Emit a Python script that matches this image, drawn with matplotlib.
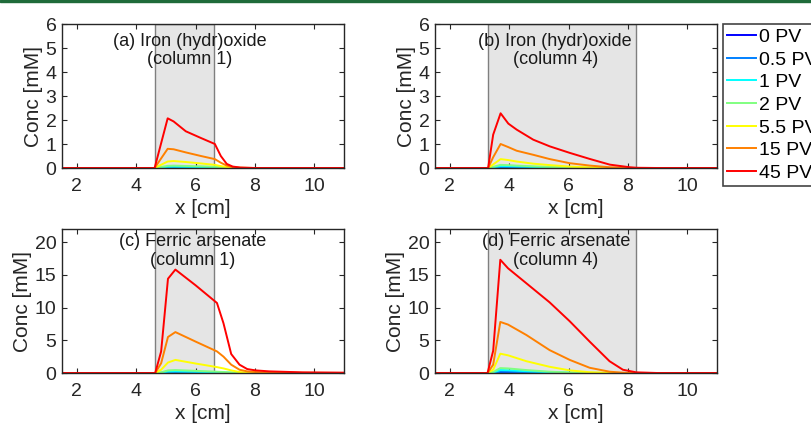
import matplotlib
matplotlib.use("Agg")
import matplotlib.pyplot as plt
from matplotlib.patches import Rectangle

plt.rcParams['font.family'] = ['Liberation Sans', 'DejaVu Sans']

labels = ['0 PV', '0.5 PV', '1 PV', '2 PV', '5.5 PV', '15 PV', '45 PV']
colors = ['#0000ff', '#0080ff', '#00ffff', '#80ff80', '#ffff00', '#ff8000', '#ff0000']

# Panel (a): Iron (hydr)oxide, column 1
xa = [1.5, 4.62, 5.06, 5.26, 5.67, 6.18, 6.65, 6.85, 7.05, 7.25, 7.5, 8.0, 9.0, 11.0]
ya = [
    [0, 0, 0, 0, 0, 0, 0, 0, 0, 0, 0, 0, 0, 0],
    [0, 0, 0.025, 0.03, 0.025, 0.02, 0.015, 0.01, 0.005, 0.002, 0, 0, 0, 0],
    [0, 0, 0.05, 0.055, 0.047, 0.04, 0.03, 0.02, 0.01, 0.004, 0, 0, 0, 0],
    [0, 0, 0.09, 0.10, 0.085, 0.07, 0.05, 0.035, 0.02, 0.008, 0.002, 0, 0, 0],
    [0, 0, 0.27, 0.29, 0.25, 0.19, 0.13, 0.08, 0.04, 0.015, 0.005, 0, 0, 0],
    [0, 0, 0.80, 0.78, 0.65, 0.50, 0.37, 0.22, 0.10, 0.04, 0.01, 0, 0, 0],
    [0, 0, 2.07, 1.94, 1.53, 1.25, 1.00, 0.50, 0.17, 0.06, 0.02, 0, 0, 0],
]

# Panel (b): Iron (hydr)oxide, column 4
xb = [1.5, 3.29, 3.46, 3.71, 3.97, 4.25, 4.81, 5.37, 6.04, 6.72, 7.39, 8.07, 8.3, 9.0, 11.0]
yb = [
    [0, 0, 0, 0, 0, 0, 0, 0, 0, 0, 0, 0, 0, 0, 0],
    [0, 0, 0.01, 0.03, 0.03, 0.025, 0.018, 0.012, 0.005, 0.002, 0, 0, 0, 0, 0],
    [0, 0, 0.03, 0.08, 0.075, 0.065, 0.045, 0.03, 0.013, 0.005, 0, 0, 0, 0, 0],
    [0, 0, 0.05, 0.13, 0.12, 0.10, 0.07, 0.045, 0.02, 0.008, 0, 0, 0, 0, 0],
    [0, 0, 0.15, 0.37, 0.33, 0.27, 0.18, 0.12, 0.06, 0.025, 0.008, 0, 0, 0, 0],
    [0, 0, 0.45, 1.00, 0.87, 0.72, 0.55, 0.37, 0.20, 0.10, 0.03, 0.005, 0, 0, 0],
    [0, 0, 1.39, 2.28, 1.85, 1.60, 1.18, 0.90, 0.63, 0.375, 0.14, 0.03, 0.01, 0, 0],
]

# Panel (c): Ferric arsenate, column 1
xc = [1.5, 4.64, 4.84, 5.07, 5.32, 6.0, 6.72, 6.94, 7.2, 7.48, 7.74, 8.02, 8.48, 9.6, 11.0]
yc = [
    [0, 0, 0, 0, 0, 0, 0, 0, 0, 0, 0, 0, 0, 0, 0],
    [0, 0, 0.02, 0.08, 0.10, 0.07, 0.04, 0.03, 0.015, 0.005, 0, 0, 0, 0, 0],
    [0, 0, 0.05, 0.22, 0.25, 0.18, 0.11, 0.08, 0.04, 0.015, 0, 0, 0, 0, 0],
    [0, 0, 0.10, 0.40, 0.45, 0.33, 0.20, 0.15, 0.08, 0.03, 0.01, 0, 0, 0, 0],
    [0, 0, 0.50, 1.60, 2.00, 1.45, 0.90, 0.70, 0.40, 0.15, 0.07, 0.04, 0.02, 0.01, 0],
    [0, 0, 1.50, 5.50, 6.25, 4.80, 3.30, 2.50, 1.27, 0.50, 0.25, 0.15, 0.08, 0.03, 0.01],
    [0, 0, 3.30, 14.4, 15.8, 13.4, 10.7, 7.60, 2.90, 1.27, 0.60, 0.40, 0.25, 0.10, 0.05],
]

# Panel (d): Ferric arsenate, column 4
xd = [1.5, 3.27, 3.46, 3.70, 3.96, 4.58, 5.36, 6.04, 6.71, 7.38, 7.83, 8.28, 9.0, 11.0]
yd = [
    [0, 0, 0, 0, 0, 0, 0, 0, 0, 0, 0, 0, 0, 0],
    [0, 0, 0.03, 0.20, 0.19, 0.12, 0.05, 0.015, 0, 0, 0, 0, 0, 0],
    [0, 0, 0.08, 0.45, 0.42, 0.27, 0.12, 0.04, 0.01, 0, 0, 0, 0, 0],
    [0, 0, 0.15, 0.75, 0.70, 0.45, 0.20, 0.07, 0.02, 0, 0, 0, 0, 0],
    [0, 0, 0.50, 2.95, 2.70, 1.80, 0.95, 0.40, 0.12, 0.03, 0, 0, 0, 0],
    [0, 0, 1.27, 7.80, 7.40, 5.80, 3.50, 2.00, 0.80, 0.20, 0.05, 0.01, 0, 0],
    [0, 0, 3.40, 17.3, 16.0, 13.7, 10.8, 7.90, 4.80, 1.80, 0.50, 0.10, 0, 0],
]

titles = ['(a) Iron (hydr)oxide\n(column 1)', '(b) Iron (hydr)oxide\n(column 4)',
          '(c) Ferric arsenate\n(column 1)', '(d) Ferric arsenate\n(column 4)']
zones = [(4.62, 6.62), (3.27, 8.27), (4.62, 6.62), (3.27, 8.27)]
ylims = [(0, 6), (0, 6), (0, 22), (0, 22)]
yticks = [[0, 1, 2, 3, 4, 5, 6], [0, 1, 2, 3, 4, 5, 6], [0, 5, 10, 15, 20], [0, 5, 10, 15, 20]]
xticks = [2, 4, 6, 8, 10]
title_pos = [(5.8, 0.94), (5.55, 0.94), (5.9, 0.97), (5.57, 0.97)]

W, H = 811, 423
fig = plt.figure(figsize=(W / 100, H / 100), dpi=100)
fig.patches.append(Rectangle((0, 1 - 2.5 / H), 1, 2.5 / H, transform=fig.transFigure,
                             color='#1f6b3a', zorder=10))

boxes = [(62, 24), (435, 24), (62, 229), (435, 229)]
aw, ah = 282, 144
panels = [(xa, ya), (xb, yb), (xc, yc), (xd, yd)]
for i, ((l, t), (xs, ys)) in enumerate(zip(boxes, panels)):
    ax = fig.add_axes([l / W, (H - t - ah) / H, aw / W, ah / H])
    ax.axvspan(zones[i][0], zones[i][1], facecolor='#e5e5e5', edgecolor='#7f7f7f',
               linewidth=1.0, zorder=0)
    lines = []
    for y, c, lab in zip(ys, colors, labels):
        ln, = ax.plot(xs, y, color=c, linewidth=1.4, label=lab, zorder=2)
        lines.append(ln)
    ax.set_xlim(1.5, 11)
    ax.set_ylim(*ylims[i])
    ax.set_xticks(xticks)
    ax.set_yticks(yticks[i])
    ax.tick_params(direction='in', top=True, right=True, length=3.5, width=0.8,
                   labelsize=14, pad=4, colors='#262626', labelcolor='#262626')
    ax.tick_params(axis='x', pad=7)
    for s in ax.spines.values():
        s.set_color('#262626')
        s.set_linewidth(1.0)
        s.set_zorder(5)
    ax.set_xlabel('x [cm]', fontsize=15, color='#262626', labelpad=3)
    ax.set_ylabel('Conc [mM]', fontsize=15, color='#262626', labelpad=2)
    tx, ty = title_pos[i]
    ax.text(tx, ty, titles[i], transform=ax.get_xaxis_transform(), ha='center', va='top',
            fontsize=13, color='#1a1a1a', linespacing=1.1, zorder=6)
    if i == 1:
        handles = lines

fig.legend(handles, labels, loc='upper left', bbox_to_anchor=(723 / W, 1 - 24 / H),
           bbox_transform=fig.transFigure, borderaxespad=0, fontsize=14,
           frameon=True, fancybox=False, framealpha=1, edgecolor='#444444',
           handlelength=1.5, handletextpad=0.12, labelspacing=0.26, borderpad=0.22)
leg = fig.legends[0]
leg.get_frame().set_linewidth(1.2)

fig.savefig('out.png', dpi=100)
